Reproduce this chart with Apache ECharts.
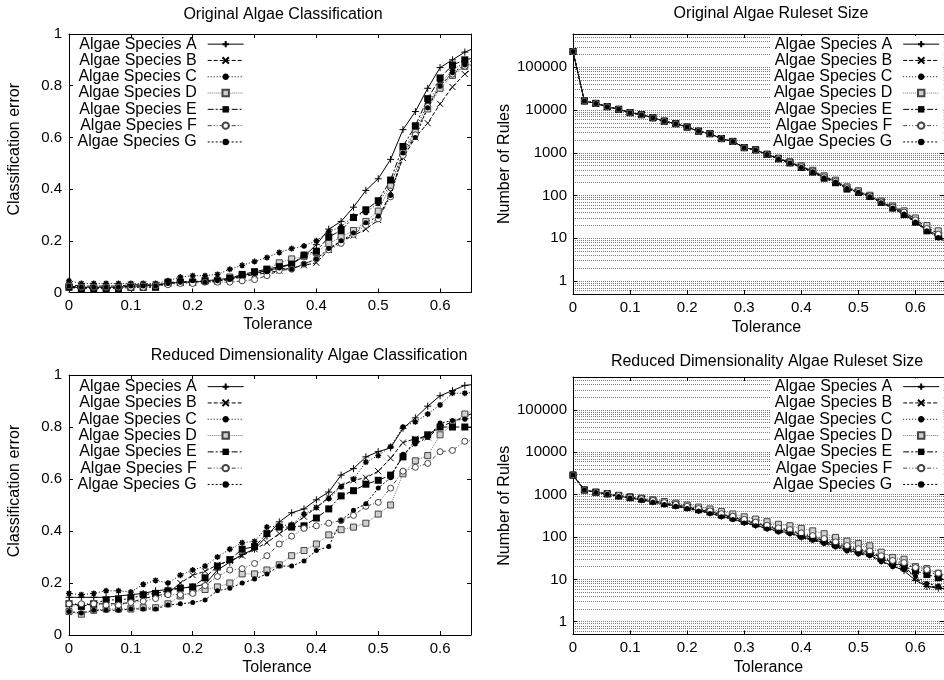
<!DOCTYPE html>
<html>
<head>
<meta charset="utf-8">
<title>Algae classification and ruleset size</title>
<script src="https://cdn.jsdelivr.net/npm/echarts@6/dist/echarts.min.js"></script>
<style>
  html, body { margin: 0; padding: 0; background: #fff; }
  #chart { width: 944px; height: 680px; }
</style>
</head>
<body>
<div id="chart"></div>
<script>
// ---- data -------------------------------------------------------------
const tolerance = [0, 0.02, 0.04, 0.06, 0.08, 0.1, 0.12, 0.14, 0.16, 0.18,
  0.2, 0.22, 0.24, 0.26, 0.28, 0.3, 0.32, 0.34, 0.36, 0.38,
  0.4, 0.42, 0.44, 0.46, 0.48, 0.5, 0.52, 0.54, 0.56, 0.58,
  0.6, 0.62, 0.64, 0.66];

const speciesNames = ['Algae Species A', 'Algae Species B', 'Algae Species C',
  'Algae Species D', 'Algae Species E', 'Algae Species F', 'Algae Species G'];

const toleranceTicks = [0, 0.1, 0.2, 0.3, 0.4, 0.5, 0.6];
const errorTicks = [0, 0.2, 0.4, 0.6, 0.8, 1];
const ruleTicks = [1, 10, 100, 1000, 10000, 100000];
const ruleGridValues = [0.6, 0.7, 0.8, 0.9,
  1, 2, 3, 4, 5, 6, 7, 8, 9,
  10, 20, 30, 40, 50, 60, 70, 80, 90,
  100, 200, 300, 400, 500, 600, 700, 800, 900,
  1000, 2000, 3000, 4000, 5000, 6000, 7000, 8000, 9000,
  10000, 20000, 30000, 40000, 50000, 60000, 70000, 80000, 90000,
  100000, 200000, 300000, 400000, 500000];

// Original data set: classification error
const origErrorA = [0.02, 0.02, 0.02, 0.02, 0.02, 0.025, 0.025, 0.03, 0.035, 0.04,
  0.04, 0.045, 0.05, 0.055, 0.065, 0.075, 0.085, 0.095, 0.11, 0.14,
  0.185, 0.245, 0.275, 0.33, 0.395, 0.44, 0.515, 0.63, 0.70, 0.79,
  0.87, 0.90, 0.93, 0.95];
const origErrorB = [0.03, 0.025, 0.025, 0.025, 0.025, 0.03, 0.03, 0.03, 0.035, 0.04,
  0.04, 0.045, 0.045, 0.05, 0.06, 0.07, 0.075, 0.085, 0.095, 0.105,
  0.115, 0.165, 0.2, 0.22, 0.245, 0.28, 0.39, 0.52, 0.60, 0.655,
  0.73, 0.795, 0.845, 0.88];
const origErrorC = [0.045, 0.035, 0.035, 0.035, 0.035, 0.035, 0.035, 0.035, 0.045, 0.06,
  0.065, 0.065, 0.07, 0.09, 0.105, 0.12, 0.135, 0.155, 0.17, 0.18,
  0.20, 0.235, 0.255, 0.295, 0.31, 0.345, 0.42, 0.54, 0.63, 0.73,
  0.81, 0.86, 0.89, 0.90];
const origErrorD = [0.025, 0.02, 0.02, 0.02, 0.02, 0.025, 0.025, 0.025, 0.035, 0.04,
  0.04, 0.045, 0.045, 0.06, 0.065, 0.08, 0.09, 0.115, 0.13, 0.14,
  0.155, 0.19, 0.215, 0.24, 0.275, 0.315, 0.415, 0.54, 0.62, 0.71,
  0.79, 0.84, 0.875, 0.89];
const origErrorE = [0.02, 0.015, 0.015, 0.015, 0.015, 0.02, 0.02, 0.02, 0.04, 0.04,
  0.04, 0.045, 0.045, 0.055, 0.07, 0.08, 0.09, 0.10, 0.11, 0.145,
  0.16, 0.215, 0.24, 0.29, 0.32, 0.355, 0.435, 0.565, 0.645, 0.75,
  0.83, 0.88, 0.90, 0.91];
const origErrorF = [0.025, 0.02, 0.02, 0.02, 0.02, 0.02, 0.02, 0.025, 0.03, 0.035,
  0.035, 0.04, 0.04, 0.04, 0.045, 0.05, 0.065, 0.085, 0.09, 0.11,
  0.13, 0.165, 0.19, 0.225, 0.26, 0.285, 0.37, 0.53, 0.61, 0.72,
  0.80, 0.845, 0.875, 0.88];
const origErrorG = [0.025, 0.02, 0.02, 0.02, 0.02, 0.025, 0.025, 0.025, 0.035, 0.04,
  0.045, 0.04, 0.045, 0.05, 0.065, 0.075, 0.08, 0.095, 0.09, 0.11,
  0.13, 0.17, 0.20, 0.23, 0.27, 0.295, 0.375, 0.54, 0.60, 0.715,
  0.80, 0.85, 0.88, 0.89];

// Original data set: number of rules
const origRulesA = [234000, 16300, 14300, 12000, 10400, 8700, 7800, 6600, 5500, 4800,
  4000, 3200, 2800, 2150, 1850, 1320, 1170, 920, 730, 590,
  470, 370, 270, 215, 150, 122, 97, 70, 53, 39,
  25, 16, 11.5, 8];
const origRulesB = [234000, 16300, 14300, 12000, 10400, 8700, 7800, 6600, 5500, 4800,
  4000, 3200, 2800, 2150, 1850, 1320, 1170, 920, 740, 600,
  480, 380, 280, 220, 155, 125, 100, 72, 55, 42,
  28, 18, 13, 9];
const origRulesC = [234000, 16300, 14300, 12000, 10400, 8700, 7800, 6600, 5500, 4800,
  4000, 3200, 2800, 2150, 1850, 1320, 1170, 910, 720, 570,
  450, 350, 260, 205, 145, 118, 93, 68, 50, 36,
  23, 15, 10.5, 7];
const origRulesD = [234000, 16300, 14300, 12000, 10400, 8700, 7800, 6600, 5500, 4800,
  4000, 3200, 2800, 2150, 1850, 1320, 1180, 930, 750, 620,
  500, 390, 290, 230, 160, 130, 102, 75, 57, 44,
  30, 20, 15, 11];
const origRulesE = [234000, 16300, 14300, 12000, 10400, 8700, 7800, 6600, 5500, 4800,
  4000, 3200, 2800, 2150, 1850, 1320, 1170, 920, 725, 580,
  455, 355, 255, 200, 142, 118, 95, 69, 51, 36,
  24, 15, 11, 7.5];
const origRulesF = [234000, 16300, 14300, 12000, 10400, 8700, 7800, 6600, 5500, 4800,
  4000, 3200, 2800, 2150, 1850, 1320, 1170, 925, 735, 595,
  475, 375, 275, 218, 152, 124, 98, 71, 54, 41,
  27, 17, 12.5, 9];
const origRulesG = [234000, 16300, 14300, 12000, 10400, 8700, 7800, 6600, 5500, 4800,
  4000, 3200, 2800, 2150, 1850, 1320, 1170, 915, 720, 575,
  460, 360, 262, 208, 146, 119, 94, 68, 51, 37,
  24, 15, 10.5, 7];

// Reduced dimensionality data set: classification error
const redErrorA = [0.145, 0.145, 0.145, 0.145, 0.15, 0.155, 0.16, 0.17, 0.175, 0.18,
  0.185, 0.195, 0.25, 0.28, 0.31, 0.33, 0.38, 0.435, 0.47, 0.485,
  0.52, 0.55, 0.615, 0.64, 0.685, 0.705, 0.72, 0.795, 0.835, 0.88,
  0.92, 0.94, 0.96, 0.965];
const redErrorB = [0.12, 0.115, 0.12, 0.12, 0.12, 0.125, 0.14, 0.15, 0.16, 0.20,
  0.23, 0.245, 0.27, 0.285, 0.305, 0.33, 0.355, 0.39, 0.42, 0.455,
  0.49, 0.53, 0.575, 0.595, 0.605, 0.63, 0.68, 0.74, 0.755, 0.76,
  0.80, 0.82, 0.84, 0.86];
const redErrorC = [0.16, 0.155, 0.16, 0.17, 0.17, 0.165, 0.195, 0.21, 0.20, 0.23,
  0.25, 0.265, 0.30, 0.33, 0.355, 0.36, 0.415, 0.42, 0.425, 0.465,
  0.49, 0.525, 0.57, 0.60, 0.665, 0.69, 0.725, 0.80, 0.82, 0.85,
  0.885, 0.93, 0.93, 0.935];
const redErrorD = [0.09, 0.08, 0.095, 0.10, 0.10, 0.10, 0.105, 0.105, 0.12, 0.15,
  0.165, 0.175, 0.185, 0.20, 0.235, 0.235, 0.25, 0.27, 0.305, 0.325,
  0.35, 0.385, 0.405, 0.415, 0.43, 0.465, 0.50, 0.62, 0.67, 0.69,
  0.77, 0.81, 0.85, 0.87];
const redErrorE = [0.12, 0.11, 0.12, 0.135, 0.135, 0.14, 0.155, 0.16, 0.17, 0.18,
  0.185, 0.22, 0.265, 0.29, 0.33, 0.34, 0.39, 0.415, 0.415, 0.42,
  0.45, 0.485, 0.535, 0.555, 0.58, 0.595, 0.615, 0.685, 0.75, 0.77,
  0.80, 0.80, 0.80, 0.80];
const redErrorF = [0.12, 0.12, 0.12, 0.115, 0.115, 0.125, 0.13, 0.14, 0.155, 0.155,
  0.16, 0.19, 0.225, 0.25, 0.255, 0.275, 0.305, 0.35, 0.38, 0.41,
  0.42, 0.43, 0.44, 0.46, 0.495, 0.51, 0.565, 0.63, 0.645, 0.66,
  0.705, 0.71, 0.745, 0.75];
const redErrorG = [0.09, 0.085, 0.095, 0.095, 0.095, 0.10, 0.10, 0.10, 0.115, 0.12,
  0.125, 0.135, 0.17, 0.18, 0.20, 0.215, 0.235, 0.265, 0.265, 0.285,
  0.325, 0.34, 0.44, 0.48, 0.505, 0.565, 0.605, 0.695, 0.735, 0.76,
  0.815, 0.825, 0.83, 0.84];

// Reduced dimensionality data set: number of rules
const redRulesA = [2900, 1290, 1140, 1040, 920, 840, 760, 680, 600, 540,
  480, 420, 370, 310, 270, 220, 190, 160, 138, 125,
  100, 88, 74, 62, 50, 42, 38, 27, 21, 16,
  9.5, 6.8, 6.2, 6];
const redRulesB = [2900, 1290, 1140, 1040, 940, 860, 790, 720, 630, 570,
  510, 450, 400, 340, 295, 245, 212, 178, 152, 140,
  114, 98, 83, 69, 57, 48, 43, 33, 25, 21,
  11, 7, 6.5, 6.2];
const redRulesC = [2900, 1290, 1150, 1050, 950, 880, 810, 730, 650, 590,
  530, 470, 410, 350, 305, 255, 220, 185, 160, 145,
  118, 102, 87, 73, 60, 50, 45, 34, 27, 23,
  18, 15, 13, 11];
const redRulesD = [2900, 1290, 1150, 1060, 970, 900, 830, 760, 690, 630,
  570, 510, 460, 400, 350, 300, 265, 230, 200, 185,
  160, 140, 120, 98, 80, 70, 62, 44, 33, 30,
  20, 18, 14, 12];
const redRulesE = [2900, 1290, 1140, 1040, 930, 850, 780, 700, 620, 560,
  500, 440, 390, 330, 285, 235, 205, 172, 148, 135,
  110, 95, 80, 66, 55, 46, 41, 31, 24, 20,
  16, 13, 11, 9];
const redRulesF = [2900, 1290, 1140, 1050, 950, 870, 800, 730, 650, 590,
  530, 470, 415, 355, 310, 260, 225, 190, 165, 150,
  125, 108, 92, 77, 63, 53, 47, 36, 28, 25,
  19, 17, 14, 12];
const redRulesG = [2900, 1290, 1130, 1030, 910, 830, 750, 670, 590, 530,
  470, 410, 360, 300, 260, 215, 185, 155, 132, 120,
  97, 84, 70, 58, 47, 40, 36, 26, 20, 17,
  12, 8, 7, 6.5];

// ---- look -------------------------------------------------------------
const FONT = '"Liberation Sans", Arial, Helvetica, sans-serif';
const TEXT = '#000';
const PLUS = 'path://M0,5L10,5M5,0L5,10';
const CROSS = 'path://M1,1L9,9M9,1L1,9';
const STAR = 'path://M0,5L10,5M5,0L5,10M1.5,1.5L8.5,8.5M8.5,1.5L1.5,8.5';

const looks = [
  { line: 'solid', lineColor: '#000', symbol: PLUS, size: 7, fill: '#000', stroke: '#000', strokeW: 1 },
  { line: [4, 2], lineColor: '#000', symbol: CROSS, size: 6, fill: '#000', stroke: '#000', strokeW: 1 },
  { line: [1, 2], lineColor: '#000', symbol: STAR, size: 6, fill: '#000', stroke: '#000', strokeW: 1.4 },
  { line: [1, 1], lineColor: '#777', symbol: 'rect', size: 6, fill: '#d0d0d0', stroke: '#444', strokeW: 1 },
  { line: [6, 2, 2, 2], lineColor: '#000', symbol: 'rect', size: 7, fill: '#000', stroke: '#000', strokeW: 0 },
  { line: [4, 2, 1, 2, 1, 2], lineColor: '#444', symbol: 'circle', size: 6, fill: '#fff', stroke: '#444', strokeW: 1 },
  { line: [2, 2], lineColor: '#000', symbol: 'circle', size: 5, fill: '#000', stroke: '#000', strokeW: 0 }
];

const panels = [
  { title: 'Original Algae Classification', titleX: 283, titleY: 7,
    grid: { left: 69, top: 34, width: 402, height: 258.5 },
    log: false, yName: 'Classification error', yGap: 46, yShift: 28, xGap: 24, xShift: 16,
    legend: { left: 77.5, top: 36 },
    values: [origErrorA, origErrorB, origErrorC, origErrorD, origErrorE, origErrorF, origErrorG] },
  { title: 'Original Algae Ruleset Size', titleX: 771, titleY: 5.5,
    grid: { left: 573, top: 34, width: 372.5, height: 260 },
    log: true, yName: 'Number of Rules', yGap: 58, yShift: 0, xGap: 26, xShift: 16,
    legend: { left: 771, top: 36 },
    values: [origRulesA, origRulesB, origRulesC, origRulesD, origRulesE, origRulesF, origRulesG] },
  { title: 'Reduced Dimensionality Algae Classification', titleX: 309, titleY: 348,
    grid: { left: 69, top: 375, width: 402, height: 260 },
    log: false, yName: 'Classification error', yGap: 46, yShift: 28, xGap: 25, xShift: 14,
    legend: { left: 77.5, top: 378.5 },
    values: [redErrorA, redErrorB, redErrorC, redErrorD, redErrorE, redErrorF, redErrorG] },
  { title: 'Reduced Dimensionality Algae Ruleset Size', titleX: 767, titleY: 354,
    grid: { left: 573, top: 377, width: 372.5, height: 257.5 },
    log: true, yName: 'Number of Rules', yGap: 58, yShift: 0, xGap: 25, xShift: 20,
    legend: { left: 771, top: 378.5 },
    values: [redRulesA, redRulesB, redRulesC, redRulesD, redRulesE, redRulesF, redRulesG] }
];

const axisLine = { show: true, onZero: false, lineStyle: { color: '#000', width: 1 } };
const tickStyle = { color: '#000', width: 1 };
const labelStyle = { color: TEXT, fontSize: 15, fontFamily: FONT };

function nameStyle(shift) {
  return { color: TEXT, fontSize: 16, fontFamily: FONT, padding: [0, 0, 0, shift] };
}

const option = {
  animation: false,
  backgroundColor: '#fff',
  title: [], grid: [], xAxis: [], yAxis: [], legend: [], series: []
};

panels.forEach(function (p, g) {
  option.title.push({
    text: p.title, left: p.titleX, top: p.titleY, textAlign: 'center', padding: 0,
    textStyle: { color: TEXT, fontSize: 16, fontWeight: 'normal', fontFamily: FONT }
  });
  option.grid.push(Object.assign({ containLabel: false }, p.grid));

  const xBottom = option.xAxis.length;
  option.xAxis.push({
    type: 'value', gridIndex: g, position: 'bottom', min: 0, max: 0.65,
    axisLine: axisLine,
    axisTick: { show: true, inside: true, length: 4, customValues: toleranceTicks, lineStyle: tickStyle },
    axisLabel: Object.assign({ customValues: toleranceTicks, margin: 6 }, labelStyle),
    splitLine: { show: false },
    name: 'Tolerance', nameLocation: 'middle', nameGap: p.xGap, nameTextStyle: nameStyle(p.xShift)
  });
  option.xAxis.push({
    type: 'value', gridIndex: g, position: 'top', min: 0, max: 0.65,
    axisLine: axisLine,
    axisTick: { show: true, inside: true, length: 4, customValues: toleranceTicks, lineStyle: tickStyle },
    axisLabel: { show: false }, splitLine: { show: false }
  });

  const yLeft = option.yAxis.length;
  if (p.log) {
    option.yAxis.push({
      type: 'log', logBase: 10, gridIndex: g, position: 'left', min: 0.5, max: 600000,
      axisLine: axisLine,
      axisTick: { show: true, inside: true, length: 4, customValues: ruleTicks, lineStyle: tickStyle },
      axisLabel: Object.assign({ customValues: ruleTicks, margin: 6, formatter: function (v) { return String(v); } }, labelStyle),
      splitLine: { show: false },
      name: p.yName, nameLocation: 'middle', nameGap: p.yGap, nameTextStyle: nameStyle(p.yShift)
    });
    option.yAxis.push({
      type: 'log', logBase: 10, gridIndex: g, position: 'right', min: 0.5, max: 600000,
      axisLine: axisLine,
      axisTick: { show: true, inside: true, length: 4, customValues: ruleTicks, lineStyle: tickStyle },
      axisLabel: { show: false }, splitLine: { show: false }
    });
    // dotted horizontal grid at every major and minor decade step
    option.yAxis.push({
      type: 'log', logBase: 10, gridIndex: g, position: 'left', min: 0.5, max: 600000,
      axisLine: { show: false },
      axisTick: { show: false, customValues: ruleGridValues },
      axisLabel: { show: false, customValues: ruleGridValues },
      splitLine: { show: true, lineStyle: { color: '#7a7a7a', width: 1, type: [1, 1] } },
      z: 0
    });
  } else {
    option.yAxis.push({
      type: 'value', gridIndex: g, position: 'left', min: 0, max: 1, interval: 0.2,
      axisLine: axisLine,
      axisTick: { show: true, inside: true, length: 4, lineStyle: tickStyle },
      axisLabel: Object.assign({ margin: 7 }, labelStyle),
      splitLine: { show: false },
      name: p.yName, nameLocation: 'middle', nameGap: p.yGap, nameTextStyle: nameStyle(p.yShift)
    });
    option.yAxis.push({
      type: 'value', gridIndex: g, position: 'right', min: 0, max: 1, interval: 0.2,
      axisLine: axisLine,
      axisTick: { show: true, inside: true, length: 4, lineStyle: tickStyle },
      axisLabel: { show: false }, splitLine: { show: false }
    });
  }

  option.legend.push({
    data: speciesNames, orient: 'vertical', align: 'right',
    left: p.legend.left, top: p.legend.top, padding: p.log ? [0, 4, 1, 2] : 0,
    itemWidth: 36, itemHeight: 8, itemGap: 0, selectedMode: false,
    backgroundColor: p.log ? '#fff' : 'transparent',
    lineStyle: { width: 1 },
    textStyle: { color: TEXT, fontSize: 16, fontFamily: FONT, lineHeight: 16.3, padding: [0, 6, 0, 0] }
  });

  p.values.forEach(function (vals, i) {
    const lk = looks[i];
    option.series.push({
      type: 'line', name: speciesNames[i],
      xAxisIndex: xBottom, yAxisIndex: yLeft,
      data: tolerance.map(function (t, k) { return [t, vals[k]]; }),
      clip: true, silent: true, showSymbol: true,
      symbol: lk.symbol, symbolSize: lk.size,
      lineStyle: { color: lk.lineColor, width: 1, type: lk.line },
      itemStyle: { color: lk.fill, borderColor: lk.stroke, borderWidth: lk.strokeW },
      emphasis: { disabled: true },
      z: 2
    });
  });
});

const chart = echarts.init(document.getElementById('chart'), null, { renderer: 'canvas' });
chart.setOption(option);
</script>
</body>
</html>
